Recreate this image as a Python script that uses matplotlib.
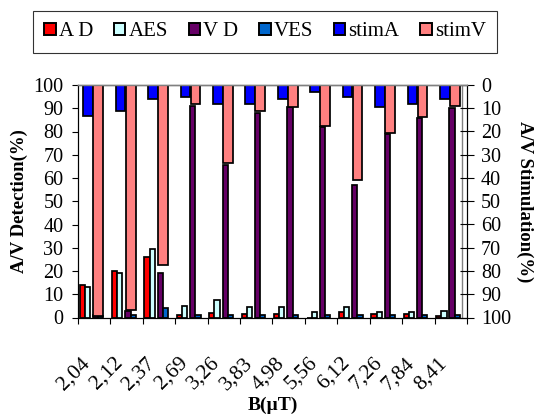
import numpy as np
import matplotlib
matplotlib.use("Agg")
import matplotlib.pyplot as plt
from matplotlib.patches import Patch

plt.rcParams['font.family'] = ['Liberation Serif', 'DejaVu Serif']

categories = ['2,04', '2,12', '2,37', '2,69', '3,26', '3,83',
              '4,98', '5,56', '6,12', '7,26', '7,84', '8,41']
AD = [14, 20, 26, 1, 2, 1.5, 1.5, 0, 2.5, 1.5, 1.5, 0.5]
AES = [13, 19, 29.5, 5, 7.5, 4.5, 4.5, 2.5, 4.5, 2.5, 2.5, 3]
VD = [1, 3, 19, 91, 65.5, 88, 90.5, 82, 57, 79, 86, 90]
VES = [0.5, 1, 4, 1, 1, 1, 1, 1, 1, 1, 1, 1]
stimA = [13.3, 11.2, 6.2, 5.2, 8.2, 8.2, 6.2, 3.2, 5.3, 9.3, 8.3, 6.2]
stimV = [99.2, 96.8, 77.4, 8.3, 33.7, 11.2, 9.3, 17.5, 40.9, 20.5, 13.6, 9]

c_AD, c_AES, c_VD, c_VES = '#FF0000', '#CCFFFF', '#660066', '#0066CC'
c_sA, c_sV = '#0000FF', '#FF8080'

W, H = 535, 416
fig = plt.figure(figsize=(W / 100, H / 100), dpi=100)
L, R, T, B = 78, 467, 85, 317.5
ax = fig.add_axes([L / W, 1 - B / H, (R - L) / W, (B - T) / H])
ax2 = ax.twinx()

x = np.arange(len(categories))
dw = 0.16
ek = dict(edgecolor='black', linewidth=1.25, align='edge')
ax.bar(x + 0.05, AD, dw, color=c_AD, **ek)
ax.bar(x + 0.21, AES, dw, color=c_AES, **ek)
ax.bar(x + 0.46, VD, dw, color=c_VD, **ek)
ax.bar(x + 0.62, VES, dw, color=c_VES, **ek)

sw = 0.30
ax2.bar(x + 0.165, stimA, sw, color=c_sA, **ek)
ax2.bar(x + 0.475, stimV, sw, color=c_sV, **ek)

ax.set_xlim(0, len(categories))
ax.set_ylim(0, 100)
ax2.set_ylim(100, 0)

ax.set_yticks(np.arange(0, 101, 10))
ax2.set_yticks(np.arange(0, 101, 10))
ax.tick_params(axis='y', direction='out', length=4.5, width=0.8, pad=6, labelsize=14.5)
ax2.tick_params(axis='y', direction='inout', length=10, width=0.8, pad=5, labelsize=14.5)

ax.set_xticks(np.arange(0, len(categories) + 1))
ax.set_xticklabels([])
ax.set_xticks(x + 0.5, minor=True)
ax.set_xticklabels(categories, minor=True, rotation=45, ha='right', va='top')
ax.tick_params(axis='x', which='major', direction='out', length=4.5, width=0.8)
ax.tick_params(axis='x', which='minor', length=0, pad=26, labelsize=15.5)

for a in (ax, ax2):
    a.spines['top'].set_color('#808080')
    a.spines['top'].set_linewidth(1.0)
    a.spines['left'].set_linewidth(0.8)
    a.spines['bottom'].set_linewidth(0.8)
    a.spines['right'].set_linewidth(0.8)
ax.axvline(len(categories) - 0.15, color='#808080', linewidth=1.0, zorder=0.5)

ax.set_ylabel('A/V Detection(%)', fontsize=13.5, fontweight='bold', labelpad=4)
ax2.set_ylabel('A/V Stimulation(%)', fontsize=13.5, fontweight='bold',
               rotation=270, labelpad=16)
ax.set_xlabel('B(\u00b5T)', fontsize=14, fontweight='bold', labelpad=2)

labels = ['A D', 'AES', 'V D', 'VES', 'stimA', 'stimV']
colors = [c_AD, c_AES, c_VD, c_VES, c_sA, c_sV]
handles = [Patch(facecolor=c, edgecolor='black', linewidth=1.4) for c in colors]
leg = fig.legend(handles, labels, loc='upper center', ncol=6,
                 bbox_to_anchor=(265 / W, 1 - 11 / H), fontsize=15,
                 handlelength=0.55, handleheight=0.55, handletextpad=0.15,
                 columnspacing=1.0, borderpad=0.55, borderaxespad=0,
                 frameon=True, fancybox=False)
leg.get_frame().set_edgecolor('black')
leg.get_frame().set_linewidth(0.8)

fig.savefig('out.png', dpi=100)
